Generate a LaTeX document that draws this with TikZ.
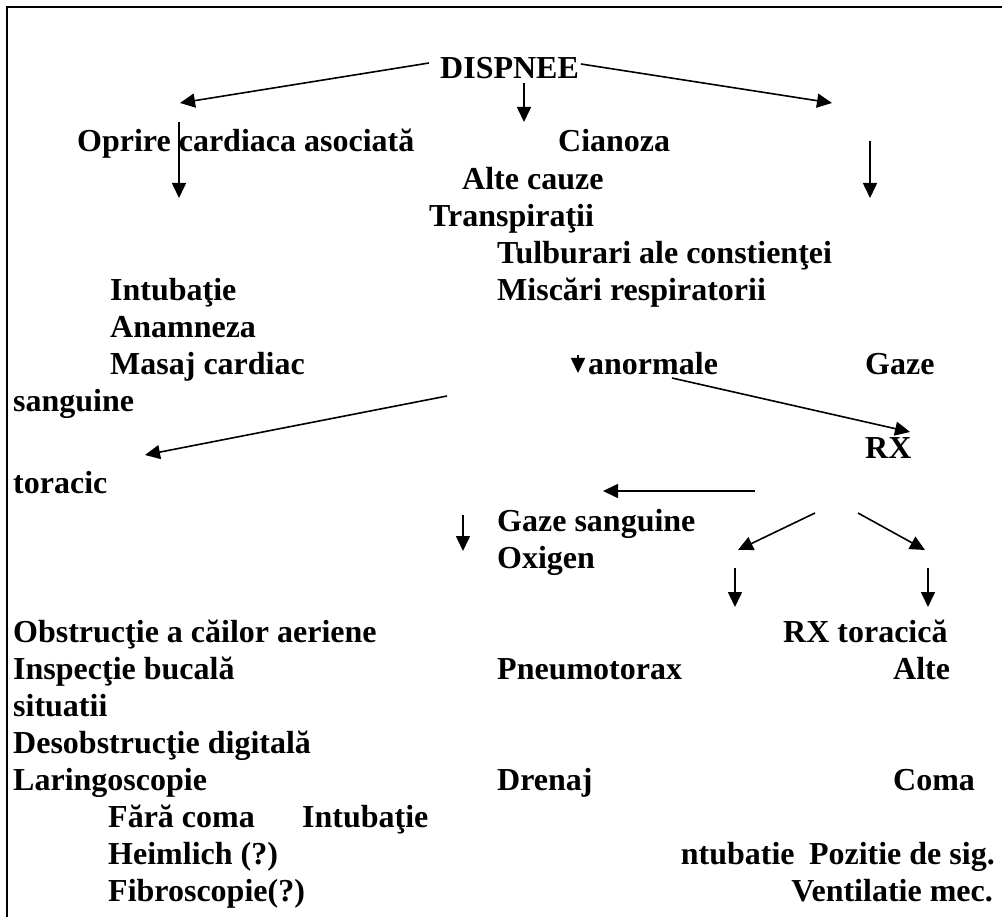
\documentclass[tikz,border=0pt]{standalone}
\usepackage{fontspec}
\setmainfont{Liberation Serif}
\usetikzlibrary{arrows.meta}

\begin{document}
\begin{tikzpicture}[x=1pt,y=-1pt,
  lbl/.style={anchor=base west, inner sep=0pt, font=\fontsize{32}{36.8}\selectfont\bfseries},
  lblr/.style={lbl, anchor=base east},
  arr/.style={line width=1.6pt, -{Triangle[length=15pt,width=14pt]}},
  frame/.style={line width=2.5pt}
]
\useasboundingbox (0,0) rectangle (1002,917);

% page frame: top and left rules
\coordinate (frameBL) at (7,917);
\coordinate (frameTL) at (7,7);
\coordinate (frameTR) at (1002,7);
\draw[frame] (frameBL) -- (frameTL) -- (frameTR);

% ---- texts ----
\node[lbl] (dispnee) at (440,79) {DISPNEE};
\node[lbl] (oprire) at (77,152) {Oprire cardiaca asociată};
\node[lbl] (cianoza) at (558,152) {Cianoza};
\node[lbl] (alte) at (462,190) {Alte cauze};
\node[lbl] (transp) at (429,227) {Transpiraţii};
\node[lbl] (tulb) at (497,264) {Tulburari ale constienţei};
\node[lbl] (intub1) at (110,301) {Intubaţie};
\node[lbl] (misc) at (497,301) {Miscări respiratorii};
\node[lbl] (anam) at (110,338) {Anamneza};
\node[lbl] (masaj) at (110,375) {Masaj cardiac};
\node[lbl] (anorm) at (588,375) {anormale};
\node[lbl] (gaze) at (865,375) {Gaze};
\node[lbl] (sang) at (13,412) {sanguine};
\node[lbl] (rx) at (865,458) {RX};
\node[lbl] (torac) at (13,493) {toracic};
\node[lbl] (gazes) at (497,531) {Gaze sanguine};
\node[lbl] (oxig) at (497,568) {Oxigen};
\node[lbl] (obstr) at (13,642) {Obstrucţie a căilor aeriene};
\node[lbl] (rxt) at (783,642) {RX toracică};
\node[lbl] (insp) at (13,679) {Inspecţie bucală};
\node[lbl] (pneu) at (497,679) {Pneumotorax};
\node[lbl] (alte2) at (893,679) {Alte};
\node[lbl] (situ) at (13,716) {situatii};
\node[lbl] (desob) at (13,753) {Desobstrucţie digitală};
\node[lbl] (laring) at (13,790) {Laringoscopie};
\node[lbl] (drenaj) at (497,790) {Drenaj};
\node[lbl] (coma) at (893,790) {Coma};
\node[lbl] (fara) at (108,827) {Fără coma};
\node[lbl] (intub2) at (302,827) {Intubaţie};
\node[lbl] (heim) at (108,864) {Heimlich (?)};
\node[lblr] (pozit) at (995,864) {ntubatie\hspace{0.45em}Pozitie de sig.};
\node[lbl] (fibro) at (108,901) {Fibroscopie(?)};
\node[lblr] (vent) at (993,901) {Ventilatie mec.};

% ---- arrow end points ----
\coordinate (dL0) at (429,63);   \coordinate (dL1) at (180,103);
\coordinate (dD0) at (524,83);   \coordinate (dD1) at (524,122);
\coordinate (dR0) at (581,64);   \coordinate (dR1) at (832,103);
\coordinate (oD0) at (179,122);  \coordinate (oD1) at (179,198);
\coordinate (rD0) at (870,141);  \coordinate (rD1) at (870,198);
\coordinate (aS0) at (578,355);  \coordinate (aS1) at (578,373);
\coordinate (aR0) at (672,378);  \coordinate (aR1) at (910,432);
\coordinate (bL0) at (447,396);  \coordinate (bL1) at (145,455);
\coordinate (hL0) at (755,491);  \coordinate (hL1) at (603,491);
\coordinate (gD0) at (463,515);  \coordinate (gD1) at (463,551);
\coordinate (sL0) at (815,513);  \coordinate (sL1) at (738,550);
\coordinate (sR0) at (858,513);  \coordinate (sR1) at (925,550);
\coordinate (vL0) at (735,568);  \coordinate (vL1) at (735,607);
\coordinate (vR0) at (928,568);  \coordinate (vR1) at (928,607);

% ---- arrows ----
\draw[arr] (dL0) -- (dL1);
\draw[arr] (dD0) -- (dD1);
\draw[arr] (dR0) -- (dR1);
\draw[arr] (oD0) -- (oD1);
\draw[arr] (rD0) -- (rD1);
\draw[arr] (aS0) -- (aS1);
\draw[arr] (aR0) -- (aR1);
\draw[arr] (bL0) -- (bL1);
\draw[arr] (hL0) -- (hL1);
\draw[arr] (gD0) -- (gD1);
\draw[arr] (sL0) -- (sL1);
\draw[arr] (sR0) -- (sR1);
\draw[arr] (vL0) -- (vL1);
\draw[arr] (vR0) -- (vR1);
\end{tikzpicture}
\end{document}
